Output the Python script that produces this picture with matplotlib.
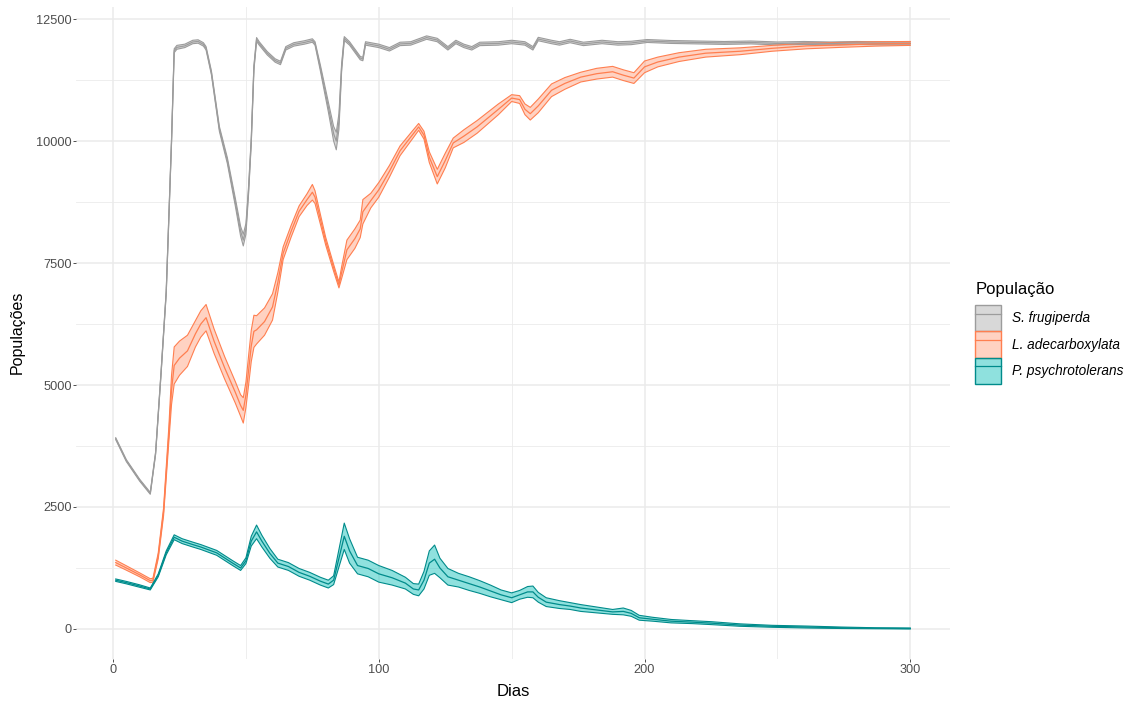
import matplotlib
matplotlib.use("Agg")
import matplotlib.pyplot as plt
import numpy as np
from matplotlib.patches import Patch
from matplotlib.lines import Line2D
from matplotlib.ticker import MultipleLocator

plt.rcParams['font.family'] = ['Liberation Sans', 'DejaVu Sans']

# --- S. frugiperda: day, mean, half band width ---
sf_day = [1, 5, 10, 14, 16, 18, 20, 22, 23, 24, 27, 30, 32, 34, 35, 37, 40, 43, 46, 48,
          49, 50, 51, 52, 53, 54, 55, 58, 61, 63, 65, 68, 72, 75, 76, 78, 81, 83, 84, 85,
          86, 87, 89, 91, 93, 94, 95, 100, 104, 108, 112, 118, 122, 126, 129, 132, 135, 138,
          145, 150, 155, 158, 160, 165, 168, 172, 177, 184, 190, 195, 201, 210, 220, 230,
          240, 250, 260, 270, 280, 290, 300]
sf_mean = [3900, 3450, 3050, 2780, 3600, 5200, 6900, 10000, 11850, 11920, 11950, 12030, 12040,
           11980, 11900, 11400, 10250, 9600, 8750, 8150, 7970, 8200, 9000, 10000, 11500, 12080,
           12000, 11800, 11650, 11600, 11900, 11980, 12020, 12060, 12000, 11500, 10700, 10150,
           10000, 10400, 11500, 12100, 12000, 11850, 11700, 11680, 12000, 11950, 11880, 11990,
           12000, 12120, 12070, 11900, 12030, 11950, 11900, 11990, 12000, 12030, 12000, 11900,
           12090, 12030, 12000, 12050, 11990, 12030, 12000, 12010, 12050, 12030, 12020, 12010,
           12020, 12000, 12010, 12000, 12010, 12000, 12000]
sf_spread = [20, 20, 20, 20, 25, 30, 30, 35, 40, 40, 35, 35, 35, 35, 35, 40, 50, 60, 80, 100,
             120, 110, 80, 60, 50, 40, 35, 35, 35, 35, 35, 35, 35, 35, 35, 60, 100, 150,
             180, 160, 80, 40, 35, 35, 35, 35, 35, 35, 35, 35, 35, 35, 35, 35, 35, 35, 35, 35,
             35, 35, 35, 35, 35, 35, 35, 35, 35, 35, 35, 35, 30, 30, 30, 30, 30, 30, 30, 30,
             30, 30, 30]

# --- L. adecarboxylata ---
la_day = [1, 5, 10, 14, 15, 17, 19, 21, 22, 23, 25, 28, 31, 33, 35, 38, 42, 46, 48, 49, 50,
          51, 52, 53, 54, 57, 60, 62, 64, 67, 70, 73, 75, 76, 78, 80, 83, 85, 86, 88, 91, 93,
          94, 97, 100, 104, 108, 113, 115, 117, 119, 122, 125, 128, 132, 137, 141, 145, 150,
          153, 155, 157, 160, 165, 170, 176, 182, 188, 192, 196, 200, 205, 213, 223, 236,
          248, 261, 274, 287, 300]
la_mean = [1360, 1250, 1110, 990, 1000, 1500, 2400, 4000, 4900, 5400, 5550, 5700, 6050, 6250,
           6380, 5900, 5350, 4850, 4580, 4480, 4800, 5300, 5800, 6100, 6130, 6300, 6600, 7100,
           7700, 8150, 8560, 8800, 8950, 8850, 8400, 7950, 7400, 7050, 7300, 7770, 8000, 8200,
           8550, 8780, 9000, 9380, 9800, 10150, 10290, 10120, 9670, 9270, 9600, 9960, 10100,
           10290, 10470, 10650, 10880, 10850, 10650, 10560, 10720, 11040, 11180, 11310, 11380,
           11420, 11350, 11290, 11520, 11620, 11720, 11800, 11840, 11900, 11950, 11970, 11990,
           12000]
la_spread = [50, 45, 40, 40, 40, 60, 80, 150, 300, 380, 350, 320, 270, 270, 270, 250, 230,
             220, 220, 260, 260, 300, 320, 330, 290, 280, 270, 200, 130, 120, 110, 120, 160,
             130, 100, 80, 70, 60, 120, 200, 200, 180, 250, 150, 150, 120, 100, 80, 70, 80,
             110, 150, 150, 100, 130, 130, 120, 110, 70, 80, 110, 130, 140, 130, 120, 100,
             110, 110, 110, 110, 120, 100, 90, 80, 70, 60, 60, 50, 45, 40]

# --- P. psychrotolerans ---
pp_day = [1, 5, 10, 14, 17, 20, 23, 26, 30, 33, 39, 45, 48, 50, 52, 54, 56, 59, 62, 66, 70,
          74, 78, 81, 83, 85, 87, 89, 92, 96, 100, 105, 110, 113, 115, 117, 119, 121, 123,
          126, 130, 134, 138, 142, 146, 150, 153, 156, 158, 160, 163, 168, 172, 176, 182,
          188, 192, 195, 198, 203, 210, 218, 225, 236, 248, 261, 274, 287, 300]
pp_mean = [1000, 950, 880, 820, 1100, 1560, 1880, 1800, 1730, 1680, 1560, 1350, 1250, 1400,
           1800, 1990, 1800, 1550, 1350, 1280, 1160, 1080, 980, 920, 1000, 1450, 1900, 1600,
           1300, 1240, 1130, 1050, 940, 820, 800, 1000, 1350, 1430, 1250, 1070, 1000, 930, 860,
           780, 700, 640, 700, 760, 760, 650, 550, 500, 470, 430, 390, 350, 360, 320, 230, 200,
           160, 140, 120, 80, 55, 40, 25, 15, 10]
pp_spread = [25, 25, 25, 20, 30, 40, 50, 50, 50, 50, 50, 50, 50, 60, 100, 140, 120, 100, 80,
             80, 80, 80, 80, 80, 90, 180, 270, 250, 170, 170, 170, 150, 120, 110, 120, 180,
             250, 290, 200, 170, 140, 140, 130, 120, 100, 100, 90, 110, 120, 100, 90, 80, 70,
             70, 60, 50, 70, 60, 50, 40, 35, 30, 30, 25, 20, 20, 15, 10, 10]

series_names = ["S. frugiperda", "L. adecarboxylata", "P. psychrotolerans"]
line_colors = ["#9C9C9C", "#FF7F50", "#008B8B"]
fill_colors = [(0.60, 0.60, 0.60, 0.38), (1.0, 0.498, 0.314, 0.35), (0.125, 0.77, 0.75, 0.5)]

fig = plt.figure(figsize=(11.3, 7.02), dpi=100)
ax = fig.add_axes([76 / 1130, 1 - 658.6 / 702, (950 - 76) / 1130, (658.6 - 6.5) / 702])

data = [(sf_day, sf_mean, sf_spread), (la_day, la_mean, la_spread), (pp_day, pp_mean, pp_spread)]

# ribbons first, then mean lines
for (d, m, s), lc, fc in zip(data, line_colors, fill_colors):
    d = np.asarray(d, float)
    m = np.asarray(m, float)
    s = np.asarray(s, float)
    lo, hi = m - s, m + s
    ax.fill_between(d, lo, hi, facecolor=fc, edgecolor="none", zorder=2)
    ax.plot(d, lo, color=lc, lw=0.8, zorder=3)
    ax.plot(d, hi, color=lc, lw=0.8, zorder=3)
for (d, m, s), lc in zip(data, line_colors):
    ax.plot(d, m, color=lc, lw=0.9, zorder=4)

ax.set_xlim(-13.95, 314.95)
ax.set_ylim(-607, 12757)
ax.set_xticks([0, 100, 200, 300])
ax.set_yticks([0, 2500, 5000, 7500, 10000, 12500])
ax.xaxis.set_minor_locator(MultipleLocator(50))
ax.yaxis.set_minor_locator(MultipleLocator(1250))
ax.grid(which="major", color="#EBEBEB", lw=1.1, zorder=0)
ax.grid(which="minor", color="#EBEBEB", lw=0.6, zorder=0)
ax.set_axisbelow(True)
for sp in ax.spines.values():
    sp.set_visible(False)
ax.tick_params(which="major", length=2.2, width=0.6, color="#333333",
               labelsize=9.2, labelcolor="#4D4D4D", pad=1.0)
ax.tick_params(axis="x", which="major", pad=2.0)
ax.tick_params(which="minor", length=0)

fig.text(513 / 1130, 1 - 691 / 702, "Dias", ha="center", va="center", fontsize=12)
fig.text(17 / 1130, 1 - 332 / 702, "Populações", ha="center", va="center",
         rotation=90, fontsize=11.5)

# legend title and keys
fig.text(976 / 1130, 1 - 290 / 702, "População", ha="left", va="center", fontsize=12)
handles = [(Patch(facecolor=fc, edgecolor=lc, lw=1.0), Line2D([], [], color=lc, lw=0.9))
           for lc, fc in zip(line_colors, fill_colors)]
leg = fig.legend(handles, series_names, loc="upper left",
                 bbox_to_anchor=(975 / 1130, 1 - 305 / 702), frameon=False,
                 prop={"size": 9.8, "style": "italic"}, handlelength=1.9,
                 handleheight=2.6, labelspacing=0.0, handletextpad=0.8,
                 borderpad=0, borderaxespad=0)

fig.savefig("out.png", dpi=100, facecolor="white")
